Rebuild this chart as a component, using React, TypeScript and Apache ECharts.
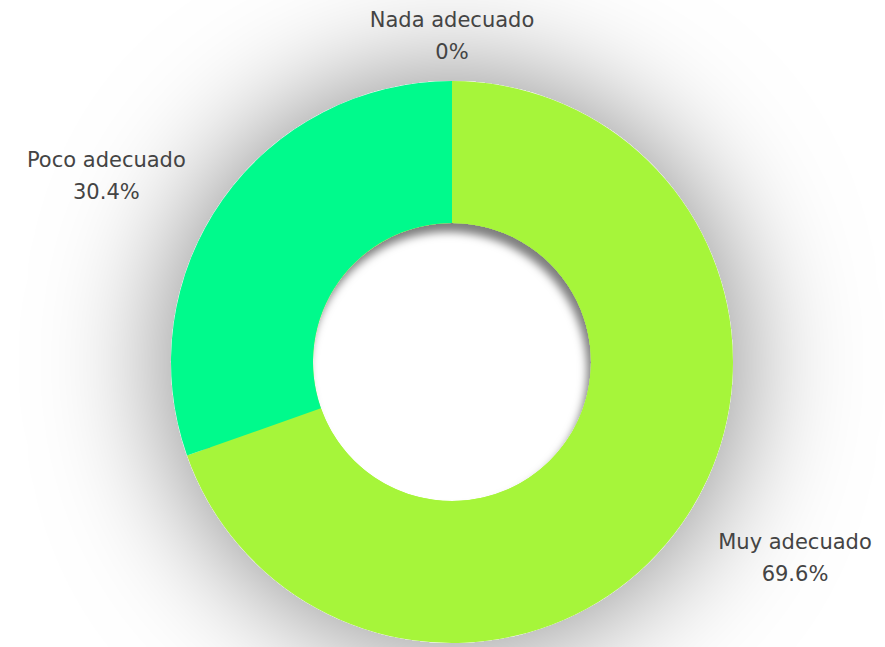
import React, { useEffect, useRef } from "react";
import * as echarts from "echarts";

const categories = ["Muy adecuado", "Poco adecuado", "Nada adecuado"];
const values = [69.6, 30.4, 0];
const colors = ["#A6F53A", "#00FA8C", "#9E9E9E"];

const CX = 452;
const CY = 362;
const R_IN = 139;
const R_OUT = 281;
const LABEL_DIST = 331;

export default function App() {
  const ref = useRef<HTMLDivElement>(null);
  useEffect(() => {
    document.body.style.margin = "0";
    if (!ref.current) return;
    const chart = echarts.init(ref.current, null, { renderer: "svg" });
    const total = values.reduce((a, b) => a + b, 0);
    let acc = 0;
    const mids = values.map((v) => {
      const a = ((acc + v / 2) / total) * Math.PI * 2;
      acc += v;
      return a;
    });
    chart.setOption({
      animation: false,
      backgroundColor: "#ffffff",
      series: [
        {
          type: "pie",
          silent: true,
          center: [CX, CY],
          radius: [0, R_OUT],
          label: { show: false },
          labelLine: { show: false },
          itemStyle: {
            color: "#ffffff",
            shadowBlur: 130,
            shadowColor: "rgba(0,0,0,0.5)",
          },
          data: [{ value: 1, name: "" }],
          z: 1,
        },
        {
          type: "pie",
          silent: true,
          center: [CX, CY],
          radius: [R_IN, R_OUT - 25],
          label: { show: false },
          labelLine: { show: false },
          itemStyle: {
            color: "#A6F53A",
            shadowBlur: 8,
            shadowOffsetX: -4,
            shadowOffsetY: 9,
            shadowColor: "rgba(0,0,0,0.5)",
          },
          data: [{ value: 1, name: "" }],
          z: 2,
        },
        {
          type: "pie",
          center: [CX, CY],
          radius: [R_IN, R_OUT],
          startAngle: 90,
          clockwise: true,
          avoidLabelOverlap: false,
          z: 3,
          label: {
            show: true,
            position: "outside",
            formatter: (p: any) => `${p.name}\n${p.value}%`,
            fontFamily: "DejaVu Sans",
            fontSize: 21,
            lineHeight: 32,
            color: "#444444",
          },
          labelLine: { show: false },
          labelLayout: (p: any) => {
            const a = mids[p.dataIndex];
            const sx = Math.sin(a);
            const sy = -Math.cos(a);
            const side = Math.abs(sx) < 0.01 ? 0 : Math.sign(sx);
            return {
              x: CX + sx * LABEL_DIST + side * (p.labelRect.width / 2 - 4),
              y: CY + sy * LABEL_DIST + 5,
              align: "center",
              verticalAlign: "middle",
            };
          },
          data: categories.map((c, i) => ({
            name: c,
            value: values[i],
            itemStyle: { color: colors[i] },
          })),
        },
      ],
    });
    return () => chart.dispose();
  }, []);
  return <div ref={ref} style={{ width: 885, height: 647 }} />;
}
